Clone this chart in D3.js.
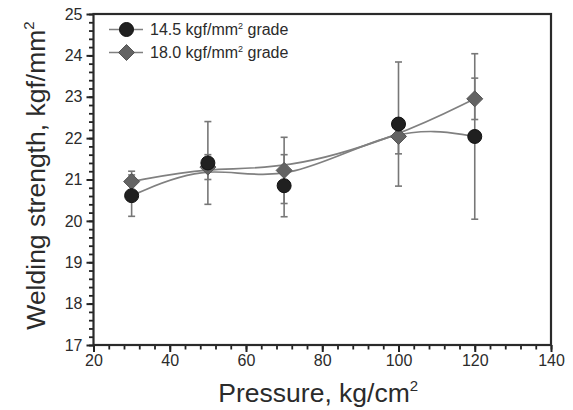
<!DOCTYPE html>
<html>
<head>
<meta charset="utf-8">
<script src="https://cdn.jsdelivr.net/npm/d3@7"></script>
<style>
  html, body { margin: 0; padding: 0; background: #fff; }
  svg { display: block; font-family: "Liberation Sans", Arial, sans-serif; }
</style>
</head>
<body>
<svg></svg>
<script>
// values
const pressure = [30, 50, 70, 100, 120];
const grade145 = [20.61, 21.40, 20.85, 22.34, 22.04];
const err145 = [0.5, 1.0, 0.75, 1.5, 2.0];
const grade180 = [20.95, 21.30, 21.22, 22.04, 22.95];
const err180 = [0.25, 0.3, 0.8, 0.42, 0.5];
const xTicks = [20, 40, 60, 80, 100, 120, 140];
const yTicks = [17, 18, 19, 20, 21, 22, 23, 24, 25];
const seriesNames = ["14.5 kgf/mm", "18.0 kgf/mm"];

const width = 573, height = 410;
const margin = {top: 14, right: 22, bottom: 65, left: 93.5};

const svg = d3.select('svg')
    .attr('width', width)
    .attr('height', height);

const x = d3.scaleLinear().domain([20, 140]).range([margin.left, width - margin.right]);
const y = d3.scaleLinear().domain([17, 25]).range([height - margin.bottom, margin.top]);

const series = [
  {name: seriesNames[0], values: grade145, err: err145, shape: 'circle', fill: '#202020', stroke: '#111'},
  {name: seriesNames[1], values: grade180, err: err180, shape: 'diamond', fill: '#636363', stroke: '#555'}
];
series.forEach(s => {
  s.points = pressure.map((p, i) => ({x: p, y: s.values[i], e: s.err[i]}));
});

// minor ticks
const minorX = d3.range(20, 140.01, 4);
const minorY = d3.range(17, 25.01, 0.2);

svg.append('g')
    .attr('class', 'minor')
    .attr('transform', `translate(0,${y(17)})`)
    .call(d3.axisBottom(x).tickValues(minorX).tickSize(4.5).tickFormat(() => ''))
    .call(g => g.select('.domain').remove())
    .call(g => g.selectAll('line').attr('stroke', '#222').attr('stroke-width', 1.8));

svg.append('g')
    .attr('class', 'minor')
    .attr('transform', `translate(${x(20)},0)`)
    .call(d3.axisLeft(y).tickValues(minorY).tickSize(4.5).tickFormat(() => ''))
    .call(g => g.select('.domain').remove())
    .call(g => g.selectAll('line').attr('stroke', '#222').attr('stroke-width', 1.8));

// major ticks
const xAxis = svg.append('g')
    .attr('transform', `translate(0,${y(17)})`)
    .call(d3.axisBottom(x).tickValues(xTicks).tickSize(7).tickPadding(3).tickFormat(d3.format('d')));
const yAxis = svg.append('g')
    .attr('transform', `translate(${x(20)},0)`)
    .call(d3.axisLeft(y).tickValues(yTicks).tickSize(7).tickPadding(4).tickFormat(d3.format('d')));

[xAxis, yAxis].forEach(g => {
  g.select('.domain').remove();
  g.selectAll('line').attr('stroke', '#222').attr('stroke-width', 2);
  g.selectAll('text').attr('font-size', 16).attr('fill', '#2b2b2b')
      .attr('font-family', '"Liberation Sans", Arial, sans-serif');
});

// frame
svg.append('rect')
    .attr('x', x(20)).attr('y', y(25))
    .attr('width', x(140) - x(20)).attr('height', y(17) - y(25))
    .attr('fill', 'none').attr('stroke', '#2a2a2a').attr('stroke-width', 2.2);

// error bars
series.forEach(s => {
  const g = svg.append('g').attr('stroke', '#777').attr('stroke-width', 1.6);
  s.points.forEach(d => {
    g.append('line').attr('x1', x(d.x)).attr('x2', x(d.x))
        .attr('y1', y(d.y - d.e)).attr('y2', y(d.y + d.e));
    [d.y - d.e, d.y + d.e].forEach(v => {
      g.append('line').attr('x1', x(d.x) - 3.5).attr('x2', x(d.x) + 3.5)
          .attr('y1', y(v)).attr('y2', y(v));
    });
  });
});

// smoothed lines
const line = d3.line().x(d => x(d.x)).y(d => y(d.y)).curve(d3.curveBasis);
series.forEach(s => {
  svg.append('path')
      .datum(s.points)
      .attr('d', line)
      .attr('fill', 'none')
      .attr('stroke', '#808080')
      .attr('stroke-width', 1.7);
});

function drawMarker(g, s, cx, cy) {
  if (s.shape === 'circle') {
    g.append('circle').attr('cx', cx).attr('cy', cy).attr('r', 7)
        .attr('fill', s.fill).attr('stroke', s.stroke).attr('stroke-width', 1);
  } else {
    const r = 8;
    g.append('path')
        .attr('d', `M${cx},${cy - r}L${cx + r},${cy}L${cx},${cy + r}L${cx - r},${cy}Z`)
        .attr('fill', s.fill).attr('stroke', s.stroke).attr('stroke-width', 1);
  }
}

// markers: diamonds under circles
[series[1], series[0]].forEach(s => {
  const g = svg.append('g');
  s.points.forEach(d => drawMarker(g, s, x(d.x), y(d.y)));
});

// legend
const legend = svg.append('g');
series.forEach((s, i) => {
  const ly = 29.5 + i * 23;
  legend.append('line').attr('x1', 109).attr('x2', 143).attr('y1', ly).attr('y2', ly)
      .attr('stroke', '#808080').attr('stroke-width', 1.7);
  drawMarker(legend, s, 126.5, ly);
  const t = legend.append('text').attr('x', 150).attr('y', ly + 5.5)
      .attr('font-size', 16).attr('fill', '#2b2b2b');
  t.append('tspan').text(s.name);
  t.append('tspan').attr('font-size', 9).attr('dy', -6.5).text('2');
  t.append('tspan').attr('dy', 6.5).text(' grade');
});

// axis titles
const xt = svg.append('text')
    .attr('x', (x(20) + x(140)) / 2 - 4).attr('y', 402)
    .attr('text-anchor', 'middle').attr('font-size', 26.5).attr('fill', '#2b2b2b');
xt.append('tspan').text('Pressure, kg/cm');
xt.append('tspan').attr('font-size', 15).attr('dy', -11).text('2');

const yt = svg.append('text')
    .attr('transform', `translate(45,${(y(17) + y(25)) / 2 - 4}) rotate(-90)`)
    .attr('text-anchor', 'middle').attr('font-size', 26.5).attr('fill', '#2b2b2b');
yt.append('tspan').text('Welding strength, kgf/mm');
yt.append('tspan').attr('font-size', 15).attr('dy', -11).text('2');
</script>
</body>
</html>
